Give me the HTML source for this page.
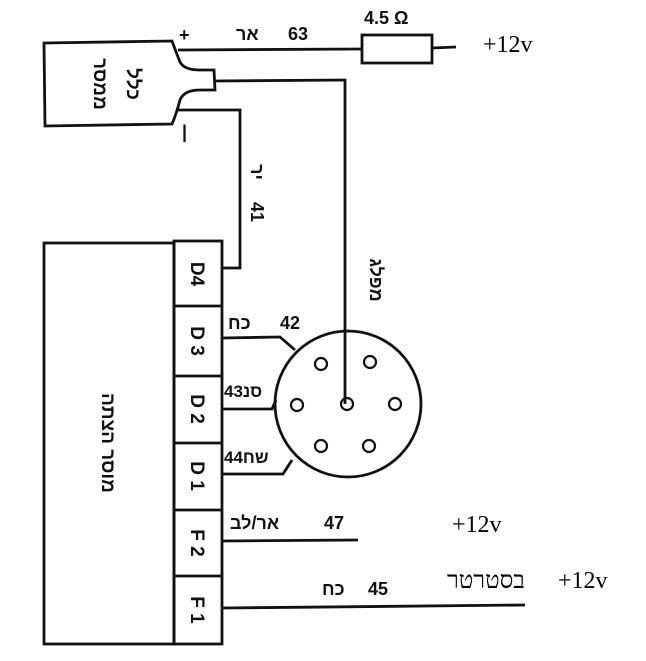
<!DOCTYPE html>
<html><head><meta charset="utf-8"><style>
html,body{margin:0;padding:0;background:#fff;width:646px;height:661px;overflow:hidden}
svg{display:block}
.h{font-family:"Liberation Sans","Noto Sans CJK SC",sans-serif;font-weight:bold;fill:#111}
.s{font-family:"Liberation Serif","Noto Serif CJK SC",serif;fill:#000}
</style></head><body>
<svg width="646" height="661" viewBox="0 0 646 661">
<g fill="none" stroke="#111" stroke-width="2.8">
<path d="M44,43 L172,41 Q176,52 180,62 Q184,70 200,70 L214,70 L215,90 L200,90 Q184,90 180,100 Q176,115 172,124 L45,126 Z"/>
<line x1="178" y1="50" x2="362" y2="49"/>
<rect x="362" y="35" width="70" height="28"/>
<line x1="432" y1="48" x2="456" y2="47"/>
<polyline points="215,81 345,80 345,404"/>
<polyline points="178,110 240,110 240,268 222,268"/>
<rect x="44" y="243" width="130" height="401"/>
<rect x="174" y="241" width="48" height="403"/>
<line x1="174" y1="306" x2="222" y2="306"/>
<line x1="174" y1="376" x2="222" y2="376"/>
<line x1="174" y1="443" x2="222" y2="443"/>
<line x1="174" y1="510" x2="222" y2="510"/>
<line x1="174" y1="576" x2="222" y2="576"/>
<circle cx="348" cy="404" r="73"/>
<polyline points="222,338 280,337 295,350"/>
<polyline points="222,409 272,409 276,400"/>
<polyline points="222,474 283,474 292,460"/>
<line x1="222" y1="541" x2="358" y2="540"/>
<line x1="222" y1="608" x2="525" y2="605"/>
</g>
<g fill="none" stroke="#111" stroke-width="2.2">
<circle cx="321" cy="364" r="6"/><circle cx="370" cy="362" r="6"/>
<circle cx="297" cy="405" r="6"/><circle cx="347" cy="404" r="6"/><circle cx="395" cy="404" r="6"/>
<circle cx="321" cy="446" r="6"/><circle cx="369" cy="446" r="6"/>
</g>
<text class="h" x="179" y="41" font-size="18">+</text>
<text class="h" x="182" y="138" font-size="18">|</text>
<text class="h" x="236" y="40" font-size="18">אר</text>
<text class="h" x="288" y="40" font-size="18">63</text>
<text class="h" x="364" y="24" font-size="18">4.5  Ω</text>
<text class="h" font-size="19" transform="translate(94,84) rotate(90)" text-anchor="middle">ממסר</text>
<text class="h" font-size="19" transform="translate(127,84) rotate(90)" text-anchor="middle">כלל</text>
<text class="h" font-size="18" transform="translate(251,172) rotate(90)" text-anchor="middle">יר</text>
<text class="h" font-size="18" transform="translate(251,212) rotate(90)" text-anchor="middle">41</text>
<text class="h" font-size="18" transform="translate(370,280) rotate(90)" text-anchor="middle">מפלג</text>
<text class="h" font-size="19" transform="translate(102,443) rotate(90)" text-anchor="middle">מוסר הצתה</text>
<g class="h" font-size="19">
<text transform="translate(191,274) rotate(90)" text-anchor="middle">D4</text>
<text transform="translate(191,341) rotate(90)" text-anchor="middle">D 3</text>
<text transform="translate(191,409) rotate(90)" text-anchor="middle">D 2</text>
<text transform="translate(191,476) rotate(90)" text-anchor="middle">D 1</text>
<text transform="translate(191,543) rotate(90)" text-anchor="middle">F 2</text>
<text transform="translate(191,610) rotate(90)" text-anchor="middle">F 1</text>
</g>
<text class="h" x="228" y="329" font-size="18">כח</text>
<text class="h" x="280" y="329" font-size="18">42</text>
<text class="h" x="224" y="397" font-size="17">סנ43</text>
<text class="h" x="224" y="463" font-size="17">שח44</text>
<text class="h" x="230" y="529" font-size="18">אר/לב</text>
<text class="h" x="324" y="529" font-size="18">47</text>
<text class="h" x="322" y="595" font-size="18">כח</text>
<text class="h" x="368" y="595" font-size="18">45</text>
<text class="s" x="483" y="52" font-size="24">+12v</text>
<text class="s" x="452" y="532" font-size="24">+12v</text>
<text class="s" x="447" y="588" font-size="24">בסטרטר</text>
<text class="s" x="558" y="588" font-size="24">+12v</text>
</svg>
</body></html>
